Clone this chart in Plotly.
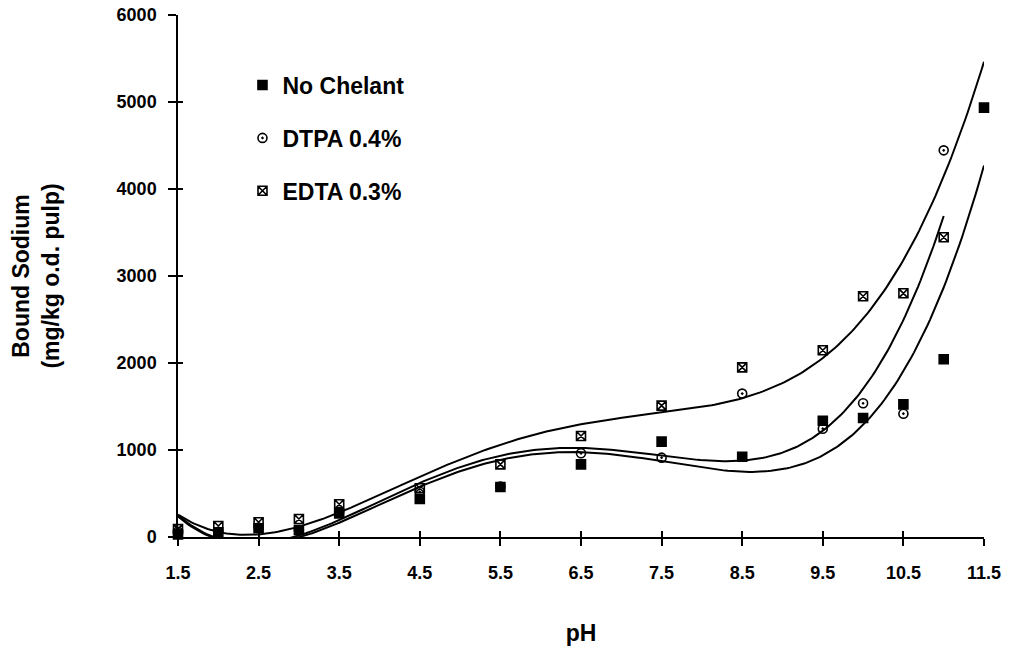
import numpy as np
import plotly.graph_objects as go

# pH values where bound sodium was measured
ph = [1.5, 2, 2.5, 3, 3.5, 4.5, 5.5, 6.5, 7.5, 8.5, 9.5, 10, 10.5, 11, 11.5]

# Bound sodium, mg/kg oven-dry pulp
no_chelant = [30, 55, 100, 80, 270, 437, 575, 835, 1096, 923, 1337, 1368, 1525, 2043, 4935]
dtpa_04 = [60, 60, 110, 80, 290, 520, 580, 962, 912, 1648, 1245, 1537, 1417, 4444]
edta_03 = [90, 126, 169, 207, 376, 560, 835, 1161, 1510, 1950, 2146, 2767, 2801, 3445, 6031]

series = [
    ("No Chelant", no_chelant, "square"),
    ("DTPA 0.4%", dtpa_04, "circle-open-dot"),
    ("EDTA 0.3%", edta_03, "square-x-open"),
]

x_ticks = [1.5, 2.5, 3.5, 4.5, 5.5, 6.5, 7.5, 8.5, 9.5, 10.5, 11.5]
y_ticks = [0, 1000, 2000, 3000, 4000, 5000, 6000]

POLY_ORDER = 4
FONT = "Liberation Sans, Arial, sans-serif"

fig = go.Figure()

for i, (name, vals, sym) in enumerate(series):
    xs = np.array(ph[: len(vals)], dtype=float)
    ys = np.array(vals, dtype=float)
    # polynomial trendline over the measured pH span
    coef = np.polyfit(xs, ys, POLY_ORDER)
    xf = np.linspace(xs.min(), xs.max(), 300)
    fig.add_trace(go.Scatter(
        x=xf, y=np.polyval(coef, xf), mode="lines",
        line=dict(color="black", width=2), showlegend=False, hoverinfo="skip",
    ))
    fig.add_trace(go.Scatter(
        x=xs, y=ys, mode="markers", name=name, legendgroup=f"g{i}",
        marker=dict(symbol=sym, size=9, color="black",
                    line=dict(color="black", width=1.6)),
        cliponaxis=False,
    ))

# companion axes carry the inner half of the crossing tick marks
fig.add_trace(go.Scatter(x=[], y=[], xaxis="x2", yaxis="y2", showlegend=False))

tick_font = dict(family=FONT, size=18, color="black", weight="bold")
title_font = dict(family=FONT, size=23, color="black", weight="bold")

fig.update_layout(
    width=1009, height=648,
    paper_bgcolor="white", plot_bgcolor="white",
    margin=dict(l=178, r=25, t=15, b=111),
    font=dict(family=FONT, color="black"),
    xaxis=dict(
        range=[1.5, 11.5], tickvals=x_ticks, ticktext=[f"{v:g}" for v in x_ticks],
        showgrid=False, zeroline=False, showline=True, linecolor="black", linewidth=1.5,
        ticks="outside", ticklen=7, tickwidth=1.5, tickcolor="black",
        tickfont=tick_font, ticklabelstandoff=12, automargin=False,
        title=dict(text="pH", font=title_font, standoff=43),
    ),
    yaxis=dict(
        range=[0, 6000], tickvals=y_ticks, ticktext=[str(v) for v in y_ticks],
        showgrid=False, zeroline=False, showline=True, linecolor="black", linewidth=1.5,
        ticks="outside", ticklen=8, tickwidth=1.5, tickcolor="black",
        tickfont=tick_font, ticklabelstandoff=8, automargin=False,
        title=dict(text="Bound Sodium<br>(mg/kg o.d. pulp)", font=title_font, standoff=51),
    ),
    xaxis2=dict(overlaying="x", range=[1.5, 11.5], tickvals=x_ticks, showticklabels=False,
                ticks="inside", ticklen=6, tickwidth=1.5, tickcolor="black",
                showgrid=False, zeroline=False, showline=False, automargin=False),
    yaxis2=dict(overlaying="y", range=[0, 6000], tickvals=y_ticks, showticklabels=False,
                ticks="inside", ticklen=5, tickwidth=1.5, tickcolor="black",
                showgrid=False, zeroline=False, showline=False, automargin=False),
    legend=dict(
        x=0.08, y=0.907, xanchor="left", yanchor="top",
        font=dict(family=FONT, size=23, color="black", weight="bold"),
        bgcolor="rgba(0,0,0,0)", traceorder="grouped", tracegroupgap=20,
        itemwidth=30,
    ),
    showlegend=True,
)

fig.write_html("out.html")
